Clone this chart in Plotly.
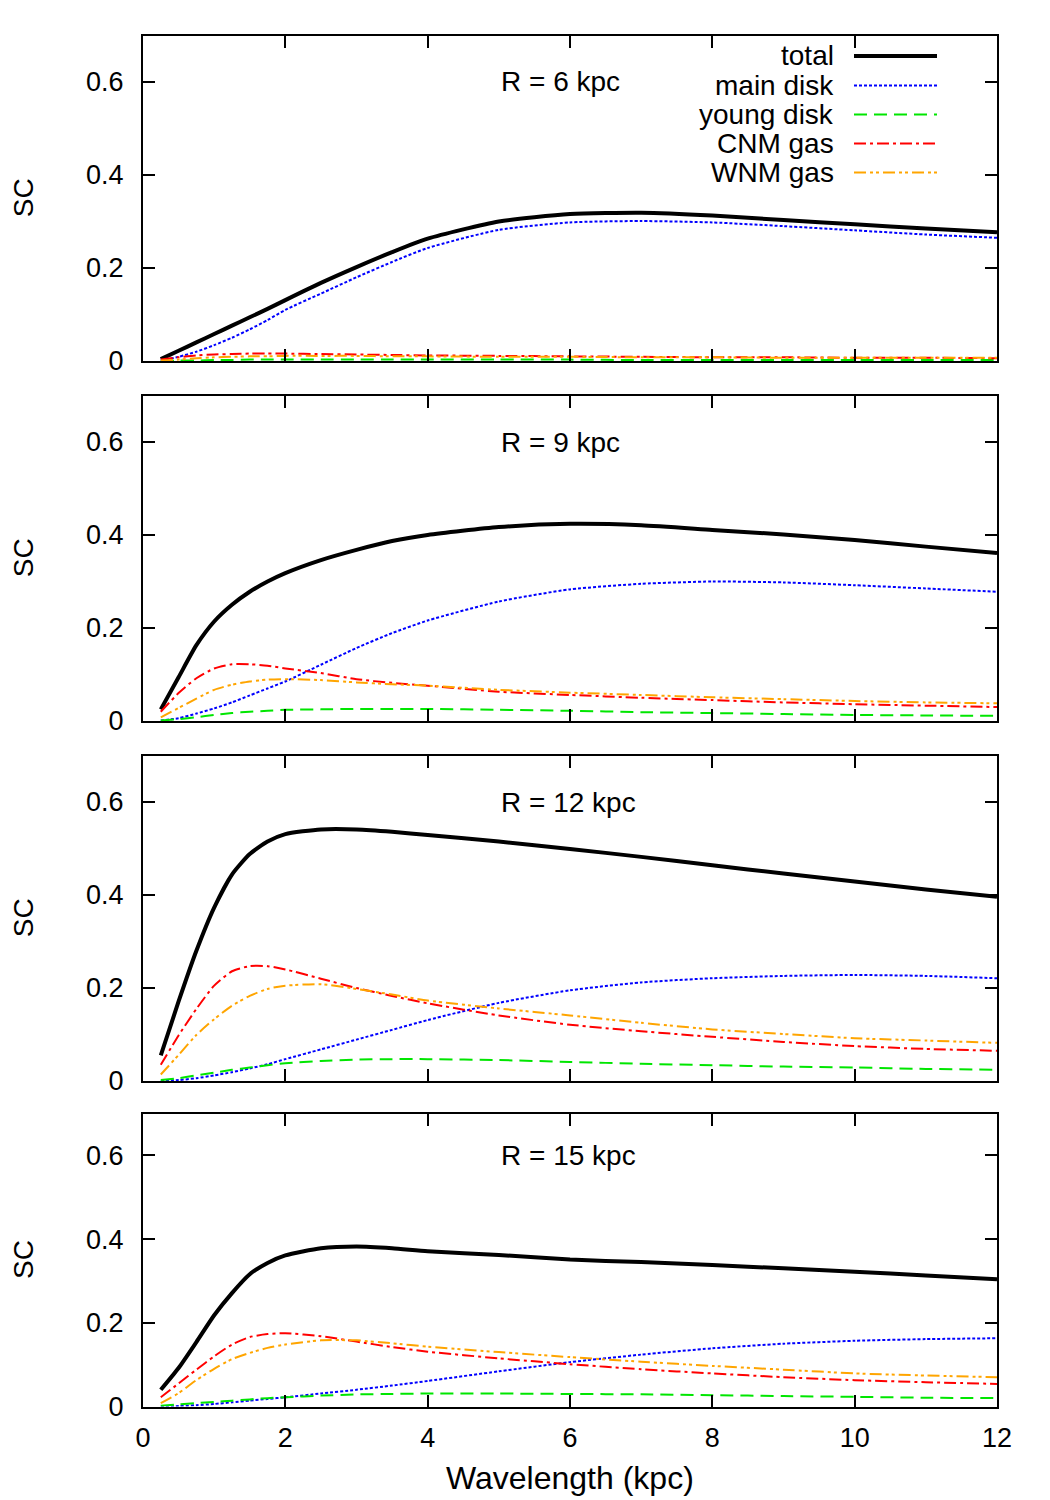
import plotly.graph_objects as go

# ---------------- data ----------------
wavelength = [0.25, 0.5, 0.75, 1.0, 1.25, 1.5, 1.75, 2.0, 2.5, 3.0, 3.5, 4.0,
              5.0, 6.0, 7.0, 8.0, 9.0, 10.0, 11.0, 12.0]

series_names = ["total", "main disk", "young disk", "CNM gas", "WNM gas"]
panel_labels = ["R = 6 kpc", "R = 9 kpc", "R = 12 kpc", "R = 15 kpc"]

r6_total = [0.004, 0.022, 0.040, 0.058, 0.076, 0.094, 0.112, 0.131, 0.168, 0.202, 0.234, 0.263,
            0.300, 0.316, 0.319, 0.313, 0.303, 0.294, 0.285, 0.277]
r6_main = [0.001, 0.009, 0.020, 0.034, 0.050, 0.068, 0.088, 0.110, 0.145, 0.180, 0.213, 0.243,
           0.282, 0.298, 0.301, 0.298, 0.290, 0.281, 0.272, 0.265]
r6_young = [0.000, 0.001, 0.001, 0.002, 0.002, 0.003, 0.003, 0.003, 0.003, 0.003, 0.003, 0.003,
            0.003, 0.003, 0.002, 0.002, 0.002, 0.002, 0.002, 0.002]
r6_cnm = [0.003, 0.008, 0.012, 0.014, 0.015, 0.016, 0.016, 0.016, 0.015, 0.014, 0.013, 0.012,
          0.011, 0.010, 0.009, 0.008, 0.008, 0.007, 0.007, 0.006]
r6_wnm = [0.001, 0.003, 0.006, 0.008, 0.009, 0.010, 0.010, 0.011, 0.011, 0.011, 0.010, 0.010,
          0.009, 0.009, 0.008, 0.008, 0.007, 0.007, 0.007, 0.007]

r9_total = [0.025, 0.094, 0.163, 0.214, 0.250, 0.278, 0.300, 0.318, 0.346, 0.368, 0.387, 0.400,
            0.417, 0.424, 0.421, 0.411, 0.401, 0.389, 0.375, 0.361]
r9_main = [0.001, 0.006, 0.016, 0.027, 0.040, 0.055, 0.070, 0.085, 0.121, 0.157, 0.189, 0.216,
           0.257, 0.283, 0.295, 0.300, 0.298, 0.292, 0.285, 0.278]
r9_young = [0.001, 0.004, 0.008, 0.013, 0.017, 0.020, 0.022, 0.024, 0.025, 0.026, 0.026, 0.026,
            0.024, 0.022, 0.019, 0.017, 0.015, 0.013, 0.012, 0.011]
r9_cnm = [0.020, 0.060, 0.092, 0.113, 0.122, 0.122, 0.119, 0.113, 0.103, 0.090, 0.082, 0.076,
          0.063, 0.056, 0.050, 0.045, 0.040, 0.036, 0.033, 0.030]
r9_wnm = [0.008, 0.028, 0.048, 0.067, 0.078, 0.085, 0.089, 0.090, 0.088, 0.083, 0.079, 0.076,
          0.067, 0.061, 0.056, 0.051, 0.047, 0.043, 0.040, 0.038]

r12_total = [0.055, 0.171, 0.280, 0.373, 0.444, 0.488, 0.515, 0.531, 0.541, 0.541, 0.536, 0.529,
             0.515, 0.499, 0.482, 0.464, 0.446, 0.429, 0.412, 0.396]
r12_main = [0.000, 0.002, 0.006, 0.012, 0.019, 0.027, 0.036, 0.047, 0.068, 0.089, 0.110, 0.131,
            0.168, 0.195, 0.212, 0.221, 0.226, 0.228, 0.226, 0.221]
r12_young = [0.002, 0.006, 0.012, 0.018, 0.024, 0.029, 0.034, 0.038, 0.043, 0.046, 0.047, 0.047,
             0.045, 0.041, 0.037, 0.034, 0.031, 0.029, 0.026, 0.024]
r12_cnm = [0.035, 0.098, 0.155, 0.205, 0.236, 0.247, 0.247, 0.240, 0.220, 0.200, 0.183, 0.167,
           0.141, 0.121, 0.107, 0.095, 0.084, 0.075, 0.069, 0.065]
r12_wnm = [0.014, 0.056, 0.099, 0.133, 0.162, 0.183, 0.198, 0.205, 0.208, 0.198, 0.186, 0.173,
           0.156, 0.141, 0.125, 0.111, 0.101, 0.092, 0.087, 0.082]

r15_total = [0.040, 0.092, 0.154, 0.218, 0.271, 0.316, 0.343, 0.361, 0.378, 0.382, 0.378, 0.371,
             0.362, 0.351, 0.345, 0.338, 0.330, 0.322, 0.313, 0.304]
r15_main = [0.000, 0.001, 0.003, 0.006, 0.010, 0.014, 0.018, 0.022, 0.031, 0.040, 0.050, 0.061,
            0.084, 0.106, 0.124, 0.139, 0.150, 0.157, 0.161, 0.163]
r15_young = [0.002, 0.005, 0.008, 0.011, 0.014, 0.017, 0.020, 0.022, 0.026, 0.029, 0.030, 0.031,
             0.031, 0.030, 0.029, 0.027, 0.025, 0.023, 0.021, 0.020]
r15_cnm = [0.022, 0.055, 0.088, 0.120, 0.148, 0.166, 0.173, 0.175, 0.168, 0.155, 0.142, 0.131,
           0.115, 0.101, 0.089, 0.079, 0.070, 0.063, 0.058, 0.054]
r15_wnm = [0.008, 0.032, 0.063, 0.090, 0.113, 0.128, 0.140, 0.148, 0.158, 0.158, 0.151, 0.143,
           0.130, 0.118, 0.107, 0.097, 0.088, 0.079, 0.074, 0.070]

x_ticks = [0, 2, 4, 6, 8, 10, 12]
y_ticks = [0, 0.2, 0.4, 0.6]
y_ticklabels = ["0", "0.2", "0.4", "0.6"]

# ---------------- styles ----------------
W, H = 1050, 1500
FONT = "Liberation Sans, Arial, Helvetica, sans-serif"
styles = [
    dict(color="#000000", width=4, dash="solid"),
    dict(color="#0000ff", width=2, dash="3px,2px"),
    dict(color="#00e600", width=2, dash="13px,7px"),
    dict(color="#ff0000", width=2, dash="12px,4px,3px,4px"),
    dict(color="#ffa500", width=2, dash="12px,4px,3px,3px,3px,4px"),
]

panels = [
    [r6_total, r6_main, r6_young, r6_cnm, r6_wnm],
    [r9_total, r9_main, r9_young, r9_cnm, r9_wnm],
    [r12_total, r12_main, r12_young, r12_cnm, r12_wnm],
    [r15_total, r15_main, r15_young, r15_cnm, r15_wnm],
]

panel_px = [(35.5, 361), (395.5, 721), (755.5, 1081), (1113.5, 1406.5)]
x_left_px, x_right_px = 143, 997

fig = go.Figure()
layout = dict(
    width=W, height=H,
    margin=dict(l=0, r=0, t=0, b=0, autoexpand=False),
    paper_bgcolor="white", plot_bgcolor="white",
    showlegend=False,
    font=dict(family=FONT, size=27, color="black"),
)

annotations = []
shapes = []

for i, series in enumerate(panels):
    xa = "x" if i == 0 else f"x{i+1}"
    ya = "y" if i == 0 else f"y{i+1}"
    for j, vals in enumerate(series):
        fig.add_trace(go.Scatter(
            x=wavelength, y=vals, mode="lines", name=series_names[j],
            line=dict(color=styles[j]["color"], width=styles[j]["width"],
                      dash=styles[j]["dash"], shape="spline", smoothing=0.6),
            xaxis=xa, yaxis=ya, showlegend=False,
        ))
    top, bot = panel_px[i]
    axkey_x = "xaxis" if i == 0 else f"xaxis{i+1}"
    axkey_y = "yaxis" if i == 0 else f"yaxis{i+1}"
    layout[axkey_x] = dict(
        domain=[x_left_px / W, x_right_px / W], anchor=ya,
        range=[0, 12], tickvals=x_ticks, showticklabels=(i == 3),
        ticks="inside", ticklen=12, tickwidth=2, tickcolor="black",
        showline=True, linewidth=2, linecolor="black", mirror="allticks",
        showgrid=False, zeroline=False, ticklabelstandoff=6,
        tickfont=dict(size=27, family=FONT),
    )
    layout[axkey_y] = dict(
        domain=[1 - bot / H, 1 - top / H], anchor=xa,
        range=[0, 0.7], tickvals=y_ticks, ticktext=y_ticklabels,
        ticks="inside", ticklen=12, tickwidth=2, tickcolor="black",
        showline=True, linewidth=2, linecolor="black", mirror="allticks",
        showgrid=False, zeroline=False, ticklabelstandoff=12,
        tickfont=dict(size=27, family=FONT),
    )
    annotations.append(dict(
        x=5.0, y=0.6, xref=xa, yref=ya, text=panel_labels[i],
        showarrow=False, xanchor="left", yanchor="middle",
        font=dict(size=28, family=FONT),
    ))
    annotations.append(dict(
        x=23 / W, y=1 - (top + bot) / 2 / H, xref="paper", yref="paper",
        text="SC", textangle=-90, showarrow=False,
        xanchor="center", yanchor="middle", font=dict(size=28, family=FONT),
    ))

annotations.append(dict(
    x=(x_left_px + x_right_px) / 2 / W, y=1 - 1478 / H, xref="paper", yref="paper",
    text="Wavelength (kpc)", showarrow=False, xanchor="center", yanchor="middle",
    font=dict(size=32, family=FONT),
))

key_rows_px = [56, 85.5, 114.5, 143.5, 172.5]
for j, name in enumerate(series_names):
    yp = 1 - key_rows_px[j] / H
    annotations.append(dict(
        x=836 / W, y=yp, xref="paper", yref="paper", text=name,
        showarrow=False, xanchor="right", yanchor="middle",
        font=dict(size=28, family=FONT),
    ))
    shapes.append(dict(
        type="line", xref="paper", yref="paper",
        x0=854 / W, x1=937 / W, y0=yp, y1=yp,
        line=dict(color=styles[j]["color"], width=styles[j]["width"], dash=styles[j]["dash"]),
    ))

layout["annotations"] = annotations
layout["shapes"] = shapes
fig.update_layout(**layout)
fig.write_html("out.html")
